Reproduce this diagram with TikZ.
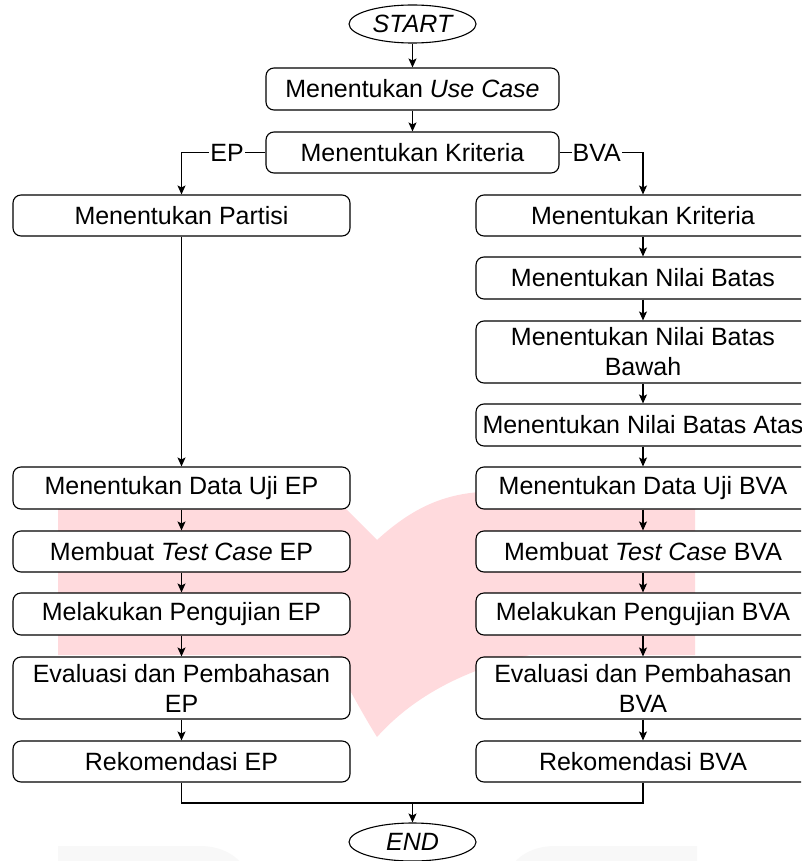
\documentclass[tikz,border=0pt]{standalone}
\usepackage{fontspec}
\setmainfont{Liberation Sans}
\usetikzlibrary{arrows.meta,shapes.geometric}
\definecolor{wmpink}{RGB}{255,218,221}
\definecolor{wmgrey}{RGB}{248,248,248}
\tikzset{
  box/.style={draw, fill=white, rounded corners=8pt, line width=1.1pt, align=center, inner sep=0pt,
    font=\fontsize{25}{30}\selectfont},
  lbox/.style={box, minimum width=337pt, minimum height=41pt},
  rbox/.style={box, minimum width=334pt, minimum height=41pt},
  term/.style={draw, fill=white, ellipse, line width=1.1pt, minimum width=127pt, minimum height=38pt,
    inner sep=0pt, font=\fontsize{25}{30}\selectfont\itshape},
  conn/.style={line width=1.1pt},
  arr/.style={conn, -{Stealth[length=9pt,width=8pt,inset=2pt]}},
  lbl/.style={fill=white, inner sep=1pt, font=\fontsize{25}{30}\selectfont},
}
\begin{document}
\begin{tikzpicture}[x=1pt,y=-1pt]
\clip (0,0) rectangle (801,861);
\fill[white] (0,0) rectangle (801,861);
% watermark
\fill[wmpink] (58,500) -- (337,500) -- (377,540) .. controls (410,510) and (440,495) .. (480,492)
  -- (695,492) -- (695,655) -- (530,655) .. controls (460,670) and (410,700) .. (377,737)
  .. controls (360,710) and (345,680) .. (330,655) -- (58,655) -- cycle;
\fill[wmgrey] (58,875) -- (58,846) -- (200,846) .. controls (225,846) and (245,860) .. (245,875) -- cycle;
\fill[wmgrey] (697,875) -- (697,846) -- (555,846) .. controls (530,846) and (510,860) .. (510,875) -- cycle;

\node[term] (start) at (412.5,24) {START};
\node[box, minimum width=293pt, minimum height=42pt] (usecase) at (412.5,89) {Menentukan \textit{Use Case}};
\node[box, minimum width=293pt, minimum height=41pt] (krit) at (412.5,152.5) {Menentukan Kriteria};

\node[lbox] (partisi) at (181.5,215.5) {Menentukan Partisi};
\node[lbox, minimum height=42pt] (dataep) at (181.5,488) {Menentukan Data Uji EP};
\node[lbox] (tcep) at (181.5,551.5) {Membuat \textit{Test Case} EP};
\node[lbox, minimum height=42pt] (ujiep) at (181.5,614) {Melakukan Pengujian EP};
\node[lbox, minimum height=62pt] (evalep) at (181.5,688) {Evaluasi dan Pembahasan\\EP};
\node[lbox] (rekep) at (181.5,761.5) {Rekomendasi EP};

\node[rbox] (rkrit) at (643,215.5) {Menentukan Kriteria};
\node[rbox, minimum height=42pt] (nilai) at (643,278) {Menentukan Nilai Batas};
\node[rbox, minimum height=62pt] (bawah) at (643,352) {Menentukan Nilai Batas\\Bawah};
\node[rbox, minimum height=42pt] (atas) at (643,425) {Menentukan Nilai Batas Atas};
\node[rbox, minimum height=42pt] (databva) at (643,488) {Menentukan Data Uji BVA};
\node[rbox] (tcbva) at (643,551.5) {Membuat \textit{Test Case} BVA};
\node[rbox, minimum height=42pt] (ujibva) at (643,614) {Melakukan Pengujian BVA};
\node[rbox, minimum height=62pt] (evalbva) at (643,688) {Evaluasi dan Pembahasan\\BVA};
\node[rbox] (rekbva) at (643,761.5) {Rekomendasi BVA};

\node[term] (end) at (412.5,842) {END};
\coordinate (m) at (412.5,803);

\draw[arr] (start) -- (usecase);
\draw[arr] (usecase) -- (krit);
\draw[arr] (krit.west) -| node[lbl, pos=0.228] {EP} (partisi.north);
\draw[arr] (krit.east) -| node[lbl, pos=0.223] {BVA} (rkrit.north);

\draw[arr] (partisi) -- (dataep);
\draw[arr] (dataep) -- (tcep);
\draw[arr] (tcep) -- (ujiep);
\draw[arr] (ujiep) -- (evalep);
\draw[arr] (evalep) -- (rekep);

\draw[arr] (rkrit) -- (nilai);
\draw[arr] (nilai) -- (bawah);
\draw[arr] (bawah) -- (atas);
\draw[arr] (atas) -- (databva);
\draw[arr] (databva) -- (tcbva);
\draw[arr] (tcbva) -- (ujibva);
\draw[arr] (ujibva) -- (evalbva);
\draw[arr] (evalbva) -- (rekbva);

\draw[conn] (rekep.south) |- (m);
\draw[conn] (rekbva.south) |- (m);
\draw[arr] (m) -- (end.north);
\end{tikzpicture}
\end{document}
